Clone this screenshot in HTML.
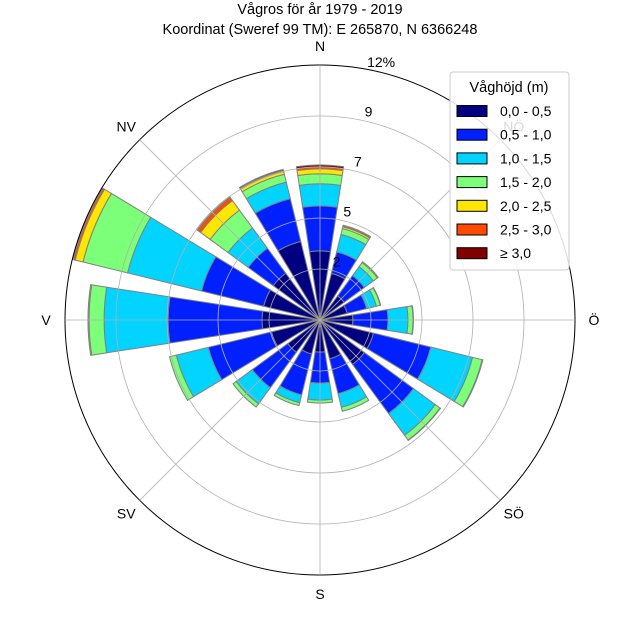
<!DOCTYPE html>
<html><head><meta charset="utf-8"><style>
body{margin:0;background:#fff;}
svg{display:block;font-family:"Liberation Sans",sans-serif;}
</style></head><body>
<svg id="c" width="640" height="640" viewBox="0 0 640 640">
<text x="320" y="14" text-anchor="middle" font-size="14.5">Vågros för år 1979 - 2019</text>
<text x="320" y="34" text-anchor="middle" font-size="14.5">Koordinat (Sweref 99 TM): E 265870, N 6366248</text>
<g id="bars"></g>
<g id="grid"></g>
<g id="labels"></g>
<g id="rlabels"></g>
<g id="legend"></g>
</svg>
<script>
const directions = ["N","NNE","NE","ENE","E","ESE","SE","SSE","S","SSW","SW","WSW","W","WNW","NW","NNW"];
const bandLabels = ["0,0 - 0,5","0,5 - 1,0","1,0 - 1,5","1,5 - 2,0","2,0 - 2,5","2,5 - 3,0","≥ 3,0"];
const band0 = [3.25,2.26,1.41,1.32,1.55,2.59,2.59,1.88,1.51,1.65,1.88,2.35,2.73,2.73,2.73,3.81];
const band1 = [2.12,1.04,1.18,0.94,1.65,2.78,2.87,1.69,1.46,1.98,2.07,3.06,4.42,3.01,1.46,2.07];
const band2 = [1.04,0.85,0.52,0.47,0.94,2.02,1.27,0.66,0.80,0.38,0.94,1.55,3.01,3.58,1.18,0.80];
const band3 = [0.47,0.28,0.24,0.19,0.24,0.47,0.28,0.19,0.14,0.14,0.19,0.33,0.71,2.16,1.04,0.38];
const band4 = [0.24,0.09,0.05,0.02,0.02,0.03,0.02,0,0,0,0,0,0.05,0.38,0.56,0.14];
const band5 = [0.09,0.05,0,0,0,0,0,0,0,0,0,0,0,0.09,0.19,0.05];
const band6 = [0.09,0.02,0,0,0,0,0,0,0,0,0,0,0,0.02,0.05,0.05];
const ringTicks = [2.4,4.8,7.2,9.6,12];
const ringLabels = ["2","5","7","9","12%"];

const bands=[band0,band1,band2,band3,band4,band5,band6];
const colors=["#000080","#0020ff","#00d4ff","#7cff79","#ffe600","#ff4a00","#800000"];
const NS="http://www.w3.org/2000/svg";
const cx=320,cy=320,R=255,maxV=12;
function rs(v){return v/maxV*R;}
function pt(r,deg){const a=deg*Math.PI/180;return [cx+r*Math.sin(a),cy-r*Math.cos(a)];}
function mk(tag,attrs,parent){const e=document.createElementNS(NS,tag);for(const k in attrs)e.setAttribute(k,attrs[k]);parent.appendChild(e);return e;}
const gb=document.getElementById('bars');
const half=8.75;
directions.forEach((d,i)=>{
  const th=i*22.5;let cum=0;
  bands.forEach((b,j)=>{
    const v=b[i];if(v<=0)return;
    const r0=rs(cum),r1=rs(cum+v);cum+=v;
    const p1=pt(r0,th-half),p2=pt(r1,th-half),p3=pt(r1,th+half),p4=pt(r0,th+half);
    const dd=`M${p1} L${p2} A${r1} ${r1} 0 0 1 ${p3} L${p4} A${r0} ${r0} 0 0 0 ${p1}Z`;
    const e=mk('path',{d:dd,fill:colors[j],stroke:'#808080','stroke-width':'1'},gb);
    
    
  });
});
const gg=document.getElementById('grid');
ringTicks.forEach((t,i)=>{
  const c=mk('circle',{cx:cx,cy:cy,r:rs(t),fill:'none',stroke:i==ringTicks.length-1?'#000':'#b0b0b0','stroke-width':i==ringTicks.length-1?1:0.8},gg);
  
  
});
for(let k=0;k<8;k++){
  const p=pt(R,k*45);
  const l=mk('line',{x1:cx,y1:cy,x2:p[0],y2:p[1],stroke:'#b0b0b0','stroke-width':0.8},gg);
  
  
}
const compass=["N","NÖ","Ö","SÖ","S","SV","V","NV"];
const gl=document.getElementById('labels');
compass.forEach((c,k)=>{
  const p=pt(R+19,k*45);
  const t=mk('text',{x:p[0],y:p[1]+5,'text-anchor':'middle','font-size':14},gl);
  t.textContent=c;
  
  
});
const gr=document.getElementById('rlabels');
ringTicks.forEach((tk,i)=>{
  const p=pt(rs(tk)+10,12);
  const t=mk('text',{x:p[0]+(i==4?6:4),y:p[1]+6,'text-anchor':'middle','font-size':14},gr);
  t.textContent=ringLabels[i];
  
  
});
const lg=document.getElementById('legend');
const box=mk('rect',{x:450,y:72,width:119,height:198,rx:3,fill:'#fff','fill-opacity':0.85,stroke:'#cccccc'},lg);


const lt=mk('text',{x:509,y:92,'text-anchor':'middle','font-size':14.5},lg);
lt.textContent="Våghöjd (m)";


bandLabels.forEach((s,j)=>{
  const y=111+j*23.7;
  const r=mk('rect',{x:457,y:y-5.5,width:30,height:11,fill:colors[j],stroke:'#000','stroke-width':1},lg);
  
  
  const t=mk('text',{x:500,y:y+5,'font-size':14},lg);
  t.textContent=s;
  
  
});
</script>
</body></html>
